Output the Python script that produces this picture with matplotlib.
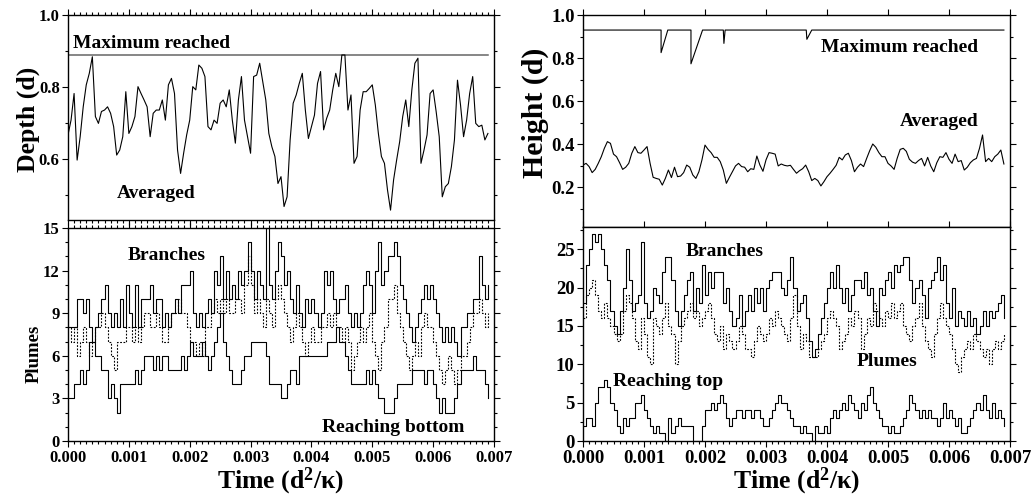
import numpy as np
import matplotlib.pyplot as plt
from matplotlib.ticker import MultipleLocator, FormatStrFormatter

plt.rcParams['font.family'] = 'Liberation Serif'
plt.rcParams['font.weight'] = 'bold'
plt.rcParams['mathtext.fontset'] = 'custom'
plt.rcParams['mathtext.rm'] = 'Liberation Serif:bold'
plt.rcParams['mathtext.default'] = 'rm'

dt = 0.00005

# ---- left: downwelling plumes (depth) ----
depth_avg = [0.667, 0.708, 0.782, 0.597, 0.662, 0.745, 0.806, 0.838, 0.884, 0.718,
             0.699, 0.732, 0.736, 0.745, 0.727, 0.690, 0.611, 0.625, 0.662, 0.787,
             0.671, 0.690, 0.718, 0.801, 0.782, 0.764, 0.745, 0.662, 0.727, 0.736,
             0.736, 0.764, 0.708, 0.806, 0.824, 0.782, 0.625, 0.560, 0.616, 0.667,
             0.708, 0.801, 0.792, 0.861, 0.852, 0.829, 0.690, 0.681, 0.708, 0.699,
             0.755, 0.764, 0.745, 0.792, 0.708, 0.644, 0.764, 0.829, 0.708, 0.662,
             0.616, 0.829, 0.833, 0.866, 0.815, 0.764, 0.671, 0.634, 0.607, 0.532,
             0.551, 0.468, 0.495, 0.653, 0.755, 0.778, 0.810, 0.838, 0.736, 0.657,
             0.690, 0.722, 0.810, 0.843, 0.681, 0.713, 0.736, 0.792, 0.838, 0.801,
             0.889, 0.889, 0.736, 0.778, 0.588, 0.607, 0.736, 0.787, 0.787, 0.796,
             0.806, 0.750, 0.671, 0.607, 0.588, 0.514, 0.458, 0.542, 0.597, 0.648,
             0.718, 0.764, 0.690, 0.792, 0.866, 0.880, 0.588, 0.625, 0.667, 0.782,
             0.792, 0.731, 0.662, 0.495, 0.523, 0.532, 0.579, 0.653, 0.819, 0.750,
             0.662, 0.708, 0.782, 0.829, 0.699, 0.690, 0.694, 0.653, 0.671]
depth_max_t = [0.0, 0.0069]
depth_max = [0.89, 0.89]

branches_left = [8, 8, 8, 10, 10, 9, 10, 8, 7, 8, 9, 10, 11, 9, 8, 9, 8, 10, 8, 11,
                 9, 8, 11, 8, 10, 10, 10, 11, 9, 10, 10, 8, 9, 8, 9, 10, 9, 11, 11, 11,
                 12, 9, 8, 9, 8, 9, 10, 9, 12, 11, 13, 10, 12, 10, 11, 10, 12, 11, 12, 14,
                 12, 10, 12, 11, 10, 15, 11, 10, 12, 14, 13, 11, 12, 10, 9, 11, 9, 8, 10, 9,
                 10, 9, 8, 9, 12, 11, 12, 10, 9, 10, 10, 11, 9, 8, 9, 8, 9, 11, 12, 11,
                 9, 12, 14, 11, 12, 13, 13, 14, 13, 11, 10, 9, 8, 7, 8, 9, 10, 11, 10, 11,
                 10, 9, 8, 7, 8, 7, 8, 7, 6, 8, 8, 9, 9, 10, 10, 13, 11, 10, 11]
plumes_left = [8, 7, 8, 6, 7, 8, 7, 6, 7, 8, 8, 9, 8, 7, 6, 5, 7, 7, 7, 8,
               8, 7, 8, 7, 8, 9, 9, 8, 8, 9, 8, 7, 7, 8, 9, 9, 10, 9, 9, 8,
               7, 7, 6, 7, 6, 8, 8, 9, 10, 9, 10, 9, 10, 9, 9, 10, 10, 9, 11, 13,
               11, 9, 10, 9, 8, 10, 9, 8, 10, 11, 10, 9, 8, 7, 8, 9, 8, 7, 6, 7,
               8, 7, 7, 8, 8, 9, 8, 9, 8, 8, 7, 8, 7, 5, 6, 7, 8, 7, 8, 9,
               7, 6, 5, 7, 8, 10, 10, 11, 9, 8, 7, 6, 5, 6, 7, 6, 8, 9, 8, 8,
               7, 6, 5, 4, 5, 6, 5, 4, 5, 6, 6, 7, 8, 9, 9, 10, 9, 8, 9]
bottom_left = [3, 3, 4, 4, 5, 4, 5, 7, 7, 6, 6, 5, 5, 3, 4, 3, 2, 4, 4, 4,
               4, 4, 5, 4, 5, 6, 6, 6, 5, 6, 5, 6, 6, 5, 5, 5, 5, 6, 5, 6,
               7, 6, 6, 6, 7, 6, 5, 6, 7, 8, 9, 7, 6, 5, 4, 4, 4, 5, 6, 6,
               7, 7, 7, 7, 7, 6, 4, 4, 4, 4, 3, 3, 4, 5, 5, 4, 6, 6, 6, 6,
               6, 6, 6, 6, 6, 7, 7, 7, 8, 7, 7, 6, 5, 4, 4, 4, 4, 4, 5, 4,
               5, 4, 3, 3, 2, 2, 2, 3, 4, 4, 4, 4, 4, 5, 5, 5, 5, 4, 5, 5,
               4, 3, 2, 3, 2, 2, 2, 3, 4, 5, 5, 5, 5, 6, 5, 5, 5, 4, 3]

# ---- right: upwelling plumes (height) ----
height_avg = [0.302, 0.310, 0.295, 0.267, 0.282, 0.310, 0.341, 0.380, 0.411, 0.403,
              0.353, 0.341, 0.313, 0.282, 0.292, 0.310, 0.357, 0.388, 0.360, 0.357,
              0.372, 0.388, 0.310, 0.245, 0.240, 0.236, 0.209, 0.240, 0.279, 0.244,
              0.292, 0.248, 0.251, 0.267, 0.302, 0.292, 0.256, 0.240, 0.271, 0.326,
              0.395, 0.375, 0.360, 0.338, 0.338, 0.318, 0.279, 0.217, 0.245, 0.271,
              0.298, 0.310, 0.295, 0.292, 0.271, 0.285, 0.282, 0.344, 0.302, 0.273,
              0.326, 0.360, 0.357, 0.353, 0.298, 0.307, 0.301, 0.298, 0.301, 0.282,
              0.264, 0.276, 0.285, 0.302, 0.271, 0.230, 0.240, 0.230, 0.205, 0.225,
              0.248, 0.264, 0.282, 0.301, 0.338, 0.326, 0.349, 0.357, 0.323, 0.271,
              0.292, 0.307, 0.295, 0.333, 0.369, 0.400, 0.385, 0.360, 0.341, 0.341,
              0.310, 0.298, 0.282, 0.333, 0.375, 0.380, 0.366, 0.329, 0.316, 0.310,
              0.323, 0.333, 0.298, 0.338, 0.298, 0.271, 0.313, 0.341, 0.338, 0.360,
              0.329, 0.310, 0.353, 0.318, 0.323, 0.279, 0.292, 0.313, 0.326, 0.333,
              0.380, 0.442, 0.318, 0.333, 0.318, 0.341, 0.353, 0.372, 0.307]
height_max_t = [0.0, 0.00128, 0.00128, 0.00139, 0.00177, 0.00177, 0.00196, 0.00230,
                0.00231, 0.00233, 0.00366, 0.00367, 0.00375, 0.0069]
height_max = [0.93, 0.93, 0.825, 0.93, 0.93, 0.773, 0.93, 0.93,
              0.868, 0.93, 0.93, 0.887, 0.93, 0.93]

branches_right = [18, 23, 25, 27, 26, 27, 25, 23, 21, 17, 15, 14, 17, 20, 25, 21, 17, 18, 19, 26,
                  18, 16, 17, 20, 19, 18, 22, 24, 24, 21, 17, 15, 17, 19, 21, 22, 17, 20, 18, 23,
                  19, 22, 20, 22, 22, 22, 18, 20, 17, 15, 16, 19, 15, 17, 19, 17, 20, 18, 20, 17,
                  20, 21, 22, 22, 22, 20, 19, 21, 24, 20, 17, 18, 19, 16, 13, 11, 12, 14, 16, 18,
                  20, 22, 20, 23, 20, 18, 20, 17, 19, 21, 21, 20, 22, 19, 20, 17, 15, 20, 19, 21,
                  22, 20, 23, 22, 23, 24, 24, 21, 18, 20, 21, 19, 16, 20, 21, 22, 24, 21, 23, 18,
                  16, 20, 15, 17, 16, 15, 17, 15, 16, 14, 15, 17, 15, 17, 16, 17, 18, 19, 16]
plumes_right = [16, 19, 20, 21, 19, 17, 16, 18, 16, 15, 14, 13, 14, 17, 19, 18, 16, 13, 12, 16,
                14, 11, 10, 16, 15, 14, 16, 18, 15, 14, 10, 13, 15, 16, 17, 18, 16, 17, 15, 16,
                17, 18, 16, 14, 13, 15, 12, 14, 13, 12, 13, 15, 14, 12, 12, 11, 13, 15, 14, 13,
                14, 16, 15, 17, 16, 15, 14, 13, 16, 19, 15, 12, 14, 13, 11, 11, 11, 12, 13, 14,
                16, 17, 16, 15, 12, 13, 14, 16, 15, 17, 16, 12, 14, 16, 15, 18, 17, 16, 15, 17,
                16, 18, 16, 17, 18, 15, 14, 13, 15, 16, 18, 15, 13, 12, 11, 14, 16, 18, 16, 15,
                14, 12, 10, 9, 11, 12, 13, 12, 14, 13, 12, 11, 12, 10, 12, 13, 12, 13, 14]
top_right = [2, 3, 3, 2, 5, 7, 7, 8, 7, 5, 4, 2, 1, 3, 2, 3, 3, 5, 5, 6,
             4, 3, 2, 1, 2, 1, 1, 0, 3, 1, 2, 3, 2, 2, 2, 2, 0, 0, 0, 2,
             4, 4, 5, 4, 5, 6, 5, 3, 2, 3, 4, 4, 3, 4, 4, 3, 4, 4, 3, 2,
             2, 3, 4, 5, 6, 5, 5, 4, 3, 2, 2, 1, 2, 1, 1, 0, 2, 1, 1, 2,
             1, 3, 4, 3, 4, 5, 4, 6, 5, 4, 3, 5, 4, 6, 7, 5, 4, 3, 2, 2,
             1, 2, 1, 1, 2, 3, 4, 6, 5, 4, 3, 4, 3, 4, 3, 3, 2, 3, 5, 3,
             4, 3, 2, 3, 1, 1, 2, 3, 4, 5, 4, 6, 4, 3, 5, 3, 4, 3, 2]

W, H = 1031, 500
fig = plt.figure(figsize=(W / 100, H / 100), dpi=100)


def box(x0, y0, x1, y1):
    # pixel box (top-left origin) -> figure fraction rect
    return [x0 / W, 1 - y1 / H, (x1 - x0) / W, (y1 - y0) / H]


def ftext(x, y, s, **kw):
    fig.text(x / W, 1 - y / H, s, ha='center', va='center', **kw)


ax1 = fig.add_axes(box(68, 15, 494, 219.5))
ax2 = fig.add_axes(box(68, 228, 494, 441))
ax3 = fig.add_axes(box(583, 15, 1010, 227))
ax4 = fig.add_axes(box(583, 227, 1010, 441))

t_l = np.arange(len(depth_avg)) * dt
t_r = np.arange(len(height_avg)) * dt
ts_l = np.arange(len(branches_left)) * dt
ts_r = np.arange(len(branches_right)) * dt

lw = 0.8
dot = (0, (1.6, 1.4))

ax1.plot(depth_max_t, depth_max, color='0.4', lw=1.1)
ax1.plot(t_l, depth_avg, color='k', lw=lw)

ax2.plot(ts_l, branches_left, color='k', lw=lw, drawstyle='steps-post')
ax2.plot(ts_l, plumes_left, color='k', lw=lw, ls=dot, drawstyle='steps-post')
ax2.plot(ts_l, bottom_left, color='k', lw=lw, drawstyle='steps-post')

ax3.plot(height_max_t, height_max, color='k', lw=lw)
ax3.plot(t_r, height_avg, color='k', lw=lw)

ax4.plot(ts_r, branches_right, color='k', lw=lw, drawstyle='steps-post')
ax4.plot(ts_r, plumes_right, color='k', lw=lw, ls=dot, drawstyle='steps-post')
ax4.plot(ts_r, top_right, color='k', lw=lw, drawstyle='steps-post')

ax1.set_ylim(0.432, 1.0)
ax2.set_ylim(0, 15)
ax3.set_ylim(0.014, 1.0)
ax4.set_ylim(0, 27.9)

for ax in (ax1, ax2, ax3, ax4):
    ax.set_xlim(0, 0.007)
    ax.xaxis.set_major_locator(MultipleLocator(0.001))
    ax.xaxis.set_major_formatter(FormatStrFormatter('%.3f'))
    for s in ax.spines.values():
        s.set_linewidth(1.0)
    ax.tick_params(which='both', direction='out', top=True, right=True, width=0.8)
    ax.tick_params(which='major', length=4)
    ax.tick_params(which='minor', length=2.5)

for ax in (ax1, ax2):
    ax.xaxis.set_minor_locator(MultipleLocator(0.0001))
    ax.tick_params(labelsize=12, pad=2)
ax4.xaxis.set_minor_locator(MultipleLocator(0.0001))
ax4.tick_params(axis='x', which='minor', top=False)
for ax in (ax3, ax4):
    ax.tick_params(labelsize=13.5, pad=2)
ax2.tick_params(axis='x', pad=2.5)
ax4.tick_params(axis='x', pad=2.5)

ax1.yaxis.set_major_locator(MultipleLocator(0.2))
ax1.yaxis.set_minor_locator(MultipleLocator(0.1))
ax1.yaxis.set_major_formatter(FormatStrFormatter('%.1f'))
ax2.yaxis.set_major_locator(MultipleLocator(3))
ax2.yaxis.set_minor_locator(MultipleLocator(1))
ax3.yaxis.set_major_locator(MultipleLocator(0.2))
ax3.yaxis.set_minor_locator(MultipleLocator(0.1))
ax3.yaxis.set_major_formatter(FormatStrFormatter('%.1f'))
ax4.yaxis.set_major_locator(MultipleLocator(5))
ax4.yaxis.set_minor_locator(MultipleLocator(2.5))

ax1.tick_params(labelbottom=False)
ax3.tick_params(labelbottom=False)

# axis labels
ftext(28, 119, 'Depth (d)', fontsize=18.5, fontweight='bold', rotation=90)
ftext(34, 354, 'Plumes', fontsize=13.5, fontweight='bold', rotation=90)
ftext(535, 113, 'Height (d)', fontsize=21.5, fontweight='bold', rotation=90)
ftext(281, 481, 'Time (d$^{2}$/κ)', fontsize=18.5, fontweight='bold')
ftext(797, 481, 'Time (d$^{2}$/κ)', fontsize=18.5, fontweight='bold')

# curve annotations
ftext(152, 44, 'Maximum reached', fontsize=14, fontweight='bold')
ftext(156, 194, 'Averaged', fontsize=14, fontweight='bold')
ftext(167, 256, 'Branches', fontsize=14, fontweight='bold')
ftext(393, 427, 'Reaching bottom', fontsize=14, fontweight='bold')
ftext(900, 48, 'Maximum reached', fontsize=14, fontweight='bold')
ftext(939, 122, 'Averaged', fontsize=14, fontweight='bold')
ftext(725, 251, 'Branches', fontsize=14, fontweight='bold')
ftext(887, 362, 'Plumes', fontsize=14, fontweight='bold')
ftext(668, 382, 'Reaching top', fontsize=14, fontweight='bold')

fig.savefig('out.png', dpi=100)
